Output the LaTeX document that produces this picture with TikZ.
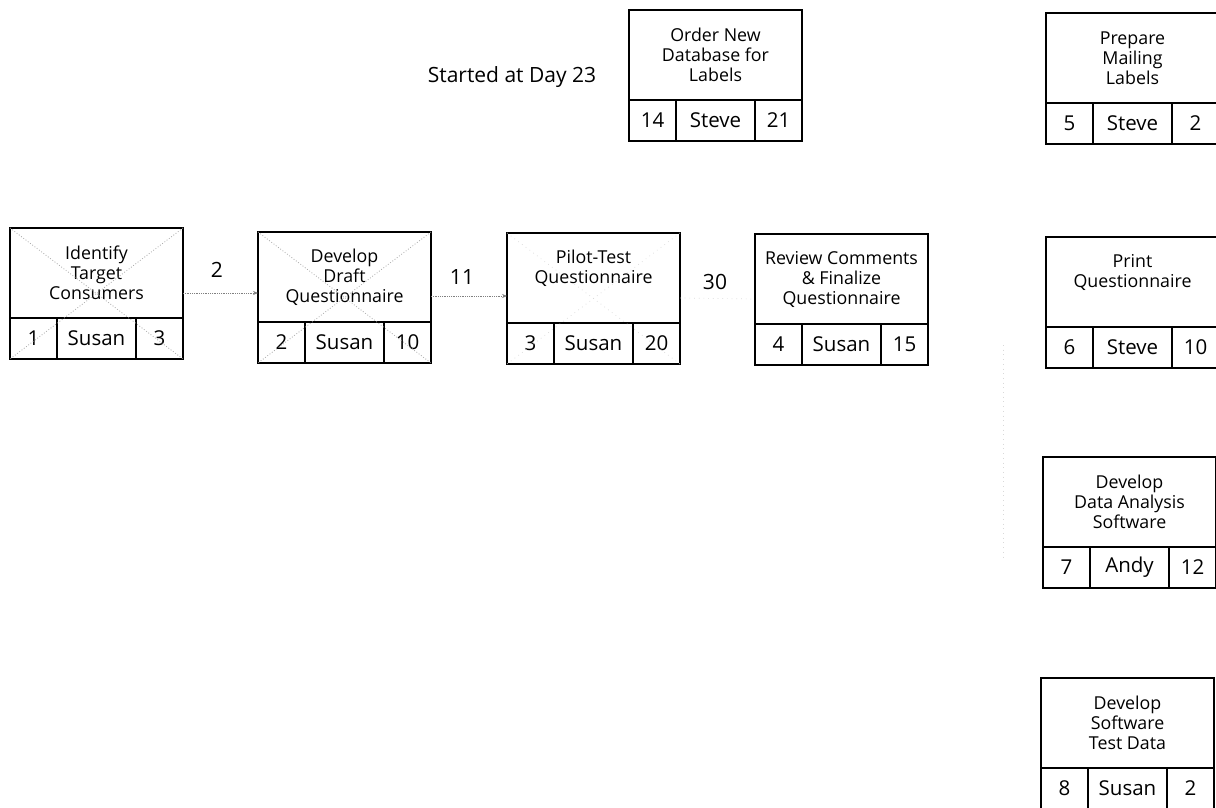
\documentclass[tikz,border=0pt]{standalone}
\usepackage{fontspec}
\setmainfont{Open Sans}
\usetikzlibrary{arrows.meta,calc}
\tikzset{
 tasktop/.style={draw, line width=1.2pt, minimum width=173pt, minimum height=90pt, anchor=north west, inner sep=0pt, outer sep=0pt},
 tasktext/.style={align=center, font=\fontsize{17.8}{20}\selectfont, inner sep=0pt},
 cell/.style={draw, line width=1.2pt, minimum height=41pt, anchor=north west, inner sep=0pt, outer sep=0pt, font=\fontsize{20.5}{22}\selectfont},
 conn/.style={densely dotted, line width=0.8pt, gray, -{Stealth[length=5pt,width=4pt]}},
 cross/.style={dotted, line width=0.8pt, gray!70},
 faint/.style={loosely dotted, line width=0.7pt, gray!30},
 lbl/.style={font=\fontsize{21}{22}\selectfont, inner sep=0pt}
}
\newcommand\task[8]{%
  \node[tasktop] (#1) at (#2,#3) {};
  \node[tasktext] (#1-t) at ([yshift=#4]#1.center) {#5};
  \node[cell, minimum width=47pt] (#1-a) at (#1.south west) {#6};
  \node[cell, minimum width=79pt] (#1-b) at (#1-a.north east) {#7};
  \node[cell, minimum width=47pt] (#1-c) at (#1-b.north east) {#8};
}
\begin{document}
\begin{tikzpicture}[x=1pt,y=-1pt]
\clip (0,0) rectangle (1216,808);
\fill[white] (0,0) rectangle (1216,808);

\task{ident}{10}{228}{0pt}{Identify\\Target\\Consumers}{1}{Susan}{3}
\task{draft}{258}{232}{0pt}{Develop\\Draft\\Questionnaire}{2}{Susan}{10}
\task{pilot}{507}{233}{10pt}{Pilot-Test\\Questionnaire}{3}{Susan}{20}
\task{review}{755}{234}{0pt}{Review Comments\\\& Finalize\\Questionnaire}{4}{Susan}{15}
\task{order}{629}{10}{0pt}{Order New\\Database for\\Labels}{14}{Steve}{21}
\task{mail}{1046}{13}{0pt}{Prepare\\Mailing\\Labels}{5}{Steve}{2}
\task{print}{1046}{237}{10pt}{Print\\Questionnaire}{6}{Steve}{10}
\task{analysis}{1043}{457}{0pt}{Develop\\Data Analysis\\Software}{7}{Andy}{12}
\task{testdata}{1041}{678}{0pt}{Develop\\Software\\Test Data}{8}{Susan}{2}

% crossed-out (completed) tasks
\draw[cross] (ident.north west) -- (ident-c.south east);
\draw[cross] (ident.north east) -- (ident-a.south west);
\draw[cross] (draft.north west) -- (draft-c.south east);
\draw[cross] (draft.north east) -- (draft-a.south west);
\draw[faint] (pilot.north west) -- (pilot-c.south east);
\draw[faint] (pilot.north east) -- (pilot-a.south west);

% connectors
\draw[conn] ([yshift=-20pt]ident.east) -- ([yshift=-16pt]draft.west);
\draw[conn] ([yshift=-19pt]draft.east) -- ([yshift=-18pt]pilot.west);
\draw[faint] ([yshift=-20pt]pilot.east) -- ([yshift=-20pt]review.west);

\node[lbl] (l1) at (217,270) {2};
\node[lbl] (l2) at (462,277) {11};
\node[lbl] (l3) at (715,282) {30};

\coordinate (v1) at (1003,345);
\coordinate (v2) at (1003,560);
\draw[faint] (v1) -- (v2);

\node[lbl] (started) at (512,77) {Started at Day 23};
\end{tikzpicture}
\end{document}
